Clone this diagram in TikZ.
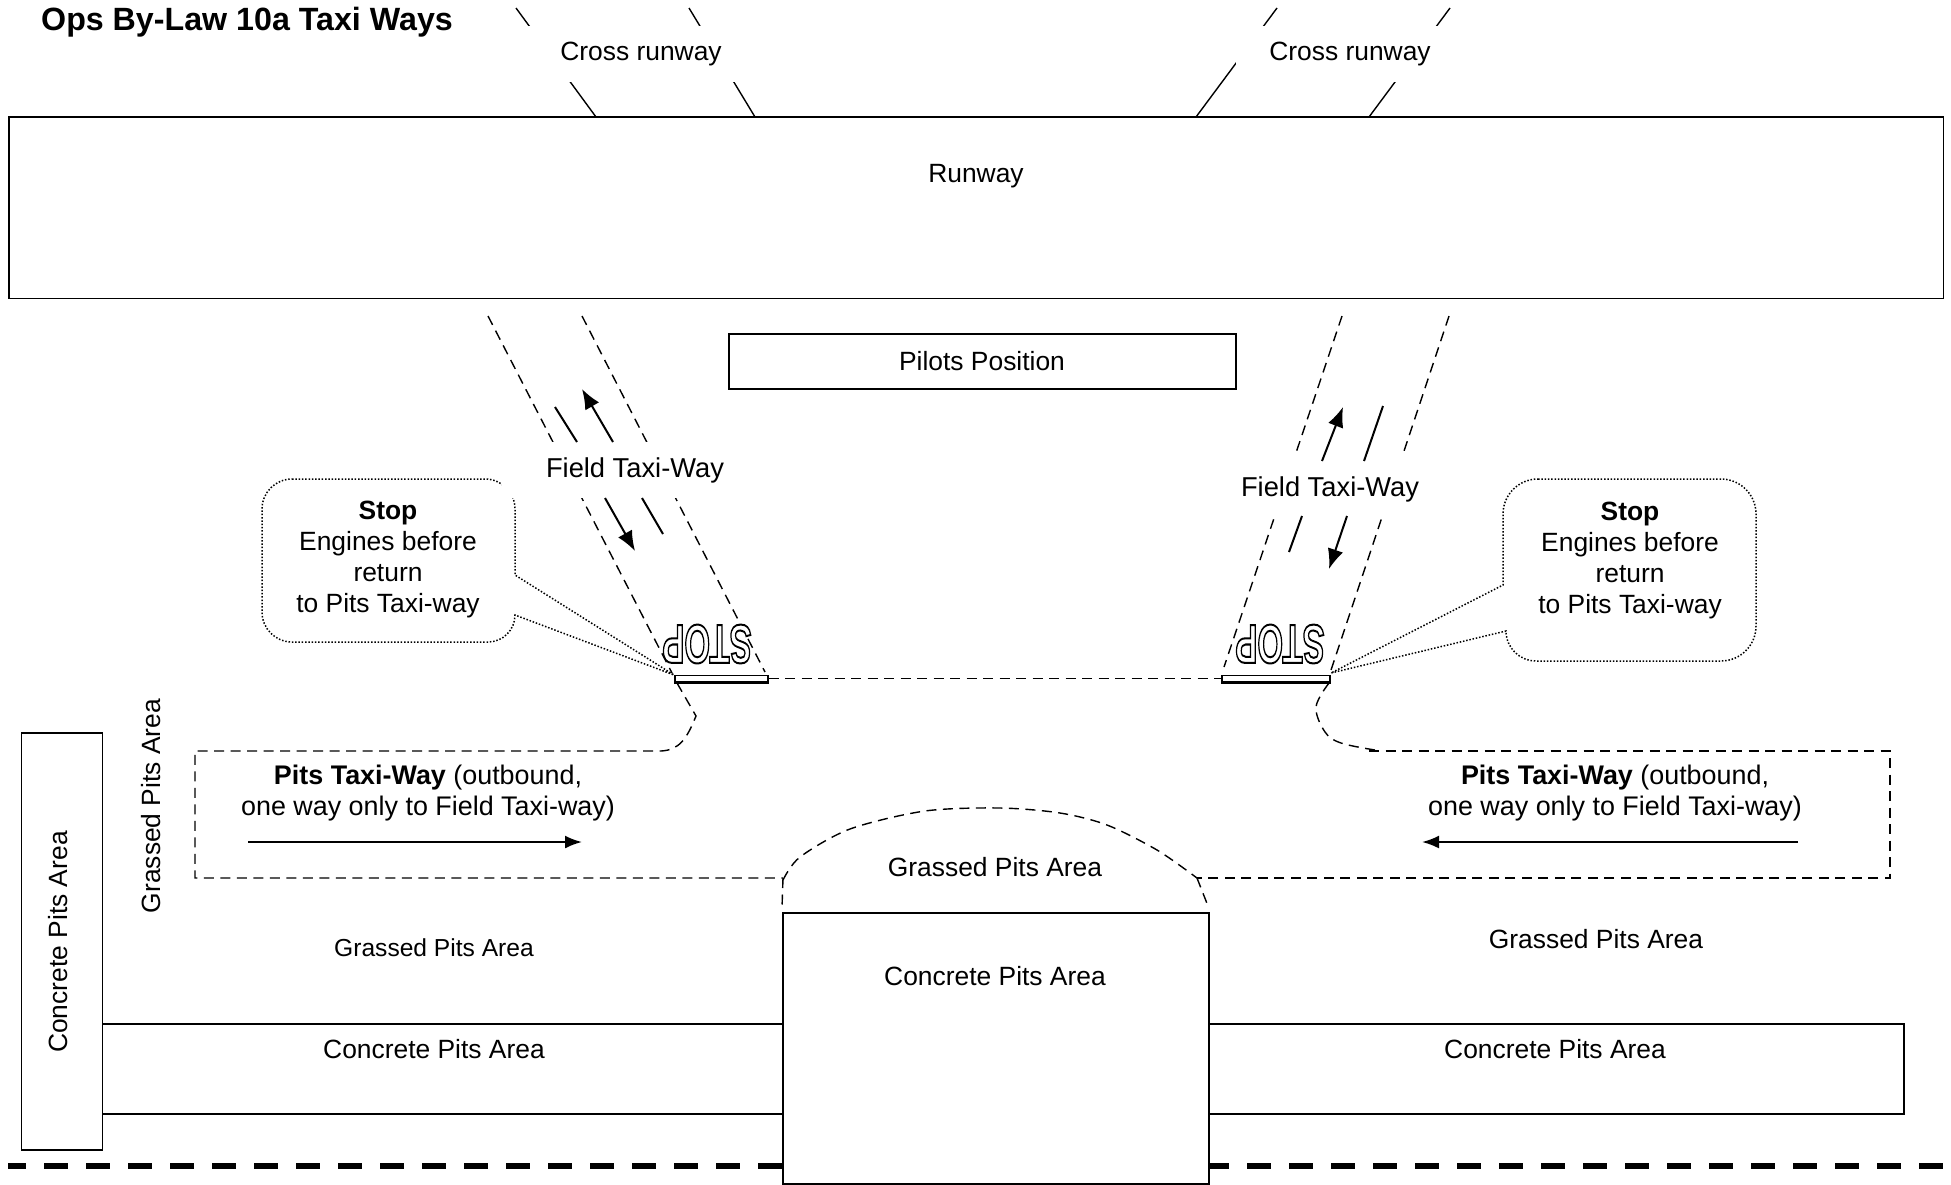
\documentclass[tikz,border=0pt]{standalone}
\usepackage{fontspec}
\setmainfont{Liberation Sans}
\usetikzlibrary{arrows.meta}
\newcommand{\stoptext}{\special{pdf:code q 2 Tr 2 w 1 g}\bfseries STOP\special{pdf:code Q}}
\begin{document}
\begin{tikzpicture}
      [
      x=1pt,y=-1pt,
      every node/.style={font=\fontsize{26.4}{31}\selectfont,align=center,inner sep=0pt},
      area/.style={draw,fill=white,line width=1.6pt,anchor=north west},
      mask/.style={fill=white},
      plain/.style={line width=1.4pt},
      taxi/.style={line width=1.4pt,dash pattern=on 10pt off 6.5pt},
      callout/.style={line width=1.5pt,dash pattern=on 1.5pt off 1.8pt},
      marking/.style={line width=2pt},
      arrowed/.style={line width=2pt,-{Latex[length=20pt,width=16pt]}},
      stopmark/.style={font=\fontsize{55}{55}\selectfont,rotate=180,xscale=0.6,transform shape},
      stopbar/.style={draw,line width=1.2pt,minimum height=6pt}
      ]
      \useasboundingbox (0,0) rectangle (1951,1184);
      % ends of the cross runways
      \coordinate (crossa1) at (516,8);
      \coordinate (crossa2) at (596,117);
      \coordinate (crossb1) at (689,8);
      \coordinate (crossb2) at (755,117);
      \coordinate (crossc1) at (1277,8);
      \coordinate (crossc2) at (1196,117);
      \coordinate (crossd1) at (1450,8);
      \coordinate (crossd2) at (1369,117);
      \draw [plain] (crossa1) -- (crossa2);
      \draw [plain] (crossb1) -- (crossb2);
      \draw [plain] (crossc1) -- (crossc2);
      \draw [plain] (crossd1) -- (crossd2);
      \node (crossl) at (641,54) [mask,minimum width=228pt,minimum height=56pt] {};
      \node (crossr) at (1350,54) [mask,minimum width=228pt,minimum height=56pt] {};
      \node (crosstextl) at (641,54) {Cross runway};
      \node (crosstextr) at (1350,54) {Cross runway};
      \node (title) at (41,22) [anchor=west,font=\fontsize{32.2}{36}\selectfont\bfseries] {Ops By-Law 10a Taxi Ways};

      \node (runway) at (8,116) [area,minimum width=1934.5pt,minimum height=181.5pt] {};
      \node (runwaytext) at (976,176) {Runway};
      \node (pilots) at (728,333) [area,minimum width=507pt,minimum height=55pt] {};
      \node (pilotstext) at (982,361) {Pilots Position};

      % taxi way on the left
      \coordinate (fla1) at (488,316);
      \coordinate (fla2) at (672,673);
      \coordinate (flb1) at (582,316);
      \coordinate (flb2) at (765,672);
      \draw [taxi] (fla1) -- (fla2);
      \draw [taxi] (flb1) -- (flb2);
      % taxi way on the right
      \coordinate (fra1) at (1342,316);
      \coordinate (fra2) at (1224,667);
      \coordinate (frb1) at (1449,316);
      \coordinate (frb2) at (1330,673);
      \draw [taxi] (fra1) -- (fra2);
      \draw [taxi] (frb1) -- (frb2);

      % the two callouts
      \draw [callout] (292,479) -- (485,479) arc[start angle=270,end angle=360,radius=30] -- (515,575)
        -- (674,675) -- (515,615) arc[start angle=0,end angle=90,radius=27] -- (292,642)
        arc[start angle=90,end angle=180,radius=30] -- (262,509)
        arc[start angle=180,end angle=270,radius=30] -- cycle;
      \draw [callout] (1538,479) -- (1721,479) arc[start angle=270,end angle=360,radius=35] -- (1756,626)
        arc[start angle=0,end angle=90,radius=35] -- (1536,661)
        arc[start angle=90,end angle=180,radius=30] -- (1331,673) -- (1503,585) -- (1503,514)
        arc[start angle=180,end angle=270,radius=35] -- cycle;
      \node (stopl) at (388,559.5) {\textbf{Stop}\\Engines before\\return\\to Pits Taxi-way};
      \node (stopr) at (1630,560.5) {\textbf{Stop}\\Engines before\\return\\to Pits Taxi-way};

      \node (fieldl) at (635,470) [mask,minimum width=266pt,minimum height=56pt] {};
      \node (fieldr) at (1330,486) [mask,minimum width=190pt,minimum height=62pt] {};
      \node (fieldtextl) at (635,470) [font=\fontsize{27.3}{31}\selectfont] {Field Taxi-Way};
      \node (fieldtextr) at (1330,489) [font=\fontsize{27.3}{31}\selectfont] {Field Taxi-Way};

      \coordinate (la1) at (555,407);
      \coordinate (la2) at (577,442);
      \coordinate (la3) at (613,442);
      \coordinate (la4) at (582,389);
      \coordinate (la5) at (605,498);
      \coordinate (la6) at (635,551);
      \coordinate (la7) at (642,498);
      \coordinate (la8) at (663,534);
      \draw [marking] (la1) -- (la2);
      \draw [arrowed] (la3) -- (la4);
      \draw [arrowed] (la5) -- (la6);
      \draw [marking] (la7) -- (la8);
      \coordinate (ra1) at (1322,461);
      \coordinate (ra2) at (1343,407);
      \coordinate (ra3) at (1364,461);
      \coordinate (ra4) at (1383,406);
      \coordinate (ra5) at (1302,516);
      \coordinate (ra6) at (1289,552);
      \coordinate (ra7) at (1347,516);
      \coordinate (ra8) at (1329,569);
      \draw [arrowed] (ra1) -- (ra2);
      \draw [marking] (ra3) -- (ra4);
      \draw [marking] (ra5) -- (ra6);
      \draw [arrowed] (ra7) -- (ra8);

      \node (stopmarkl) at (707,644) [stopmark] {\stoptext};
      \node (stopmarkr) at (1280,644) [stopmark] {\stoptext};

      % stop lines
      \node (barl) at (721.5,678.5) [stopbar,minimum width=93pt] {};
      \node (barr) at (1276,678.5) [stopbar,minimum width=108pt] {};
      \draw [line width=3pt] (barl.south west) -- (barl.south east);
      \draw [line width=3pt] (barr.south west) -- (barr.south east);
      \draw [taxi] (barl.east) -- (barr.west);

      % pits taxi way
      \coordinate (pitsl1) at (677,683);
      \coordinate (pitsl2) at (696,716);
      \coordinate (pitsl3) at (661,751);
      \coordinate (pitsl4) at (195,751);
      \coordinate (pitsl5) at (195,878);
      \coordinate (pitsl6) at (783,878);
      \coordinate (pitsl7) at (782,908);
      \coordinate (pitsr1) at (1369,751);
      \coordinate (pitsr2) at (1890,751);
      \coordinate (pitsr3) at (1890,878);
      \coordinate (pitsr4) at (1197,878);
      \coordinate (pitsr5) at (1208,906);
      \draw [taxi] (pitsl1) -- (pitsl2) .. controls (687,738) and (680,750) .. (pitsl3)
        -- (pitsl4) -- (pitsl5) -- (pitsl6);
      \draw [taxi] (pitsl6) -- (pitsl7);
      \draw [taxi] plot [smooth,tension=0.6] coordinates {(1329,683) (1316,707) (1325,732) (1341,743) (1375,750)};
      \draw [taxi] (pitsr1) -- (pitsr2) -- (pitsr3) -- (pitsr4);
      \draw [taxi] (pitsr4) -- (pitsr5);
      \draw [taxi] plot [smooth,tension=0.5] coordinates {(783,880) (800,857) (850,829) (925,811) (1000,808) (1060,813) (1107,825) (1157,850) (1197,878)};
      \node (pitsl) at (428,793.5) [font=\fontsize{26.9}{31}\selectfont] {\textbf{Pits Taxi-Way} (outbound,\\one way only to Field Taxi-way)};
      \node (pitsr) at (1615,793.5) [font=\fontsize{26.9}{31}\selectfont] {\textbf{Pits Taxi-Way} (outbound,\\one way only to Field Taxi-way)};
      \coordinate (pa1) at (248,842);
      \coordinate (pa2) at (582,842);
      \coordinate (pa3) at (1798,842);
      \coordinate (pa4) at (1422,842);
      \draw [line width=2pt,-{Latex[length=17pt,width=13pt]}] (pa1) -- (pa2);
      \draw [line width=2pt,-{Latex[length=17pt,width=13pt]}] (pa3) -- (pa4);

      % fence line, behind the concrete
      \coordinate (fence1) at (8,1166);
      \coordinate (fence2) at (782,1166);
      \coordinate (fence3) at (1205,1166);
      \coordinate (fence4) at (1943,1166);
      \draw [line width=6pt,dash pattern=on 24pt off 18pt,dash phase=6pt] (fence1) -- (fence2);
      \draw [line width=6pt,dash pattern=on 24pt off 18pt] (fence3) -- (fence4);

      \node (concretel) at (101,1023) [area,minimum width=681pt,minimum height=90pt] {};
      \node (concreter) at (1208,1023) [area,minimum width=695pt,minimum height=90pt] {};
      \node (concretev) at (20.5,732) [area,minimum width=81pt,minimum height=417pt] {};
      \node (concretec) at (782,912) [area,minimum width=426pt,minimum height=271pt] {};

      \node (concretetextl) at (434,1049) {Concrete Pits Area};
      \node (concretetextr) at (1555,1049) {Concrete Pits Area};
      \node (concretetextc) at (995,976) {Concrete Pits Area};
      \node (concretetextv) at (58,942) [rotate=90] {Concrete Pits Area};
      \node (grassv) at (151,806) [rotate=90] {Grassed Pits Area};
      \node (grassc) at (995,867) {Grassed Pits Area};
      \node (grassl) at (434,948) [font=\fontsize{24.6}{29}\selectfont] {Grassed Pits Area};
      \node (grassr) at (1596,939) {Grassed Pits Area};
    \end{tikzpicture}
\end{document}
